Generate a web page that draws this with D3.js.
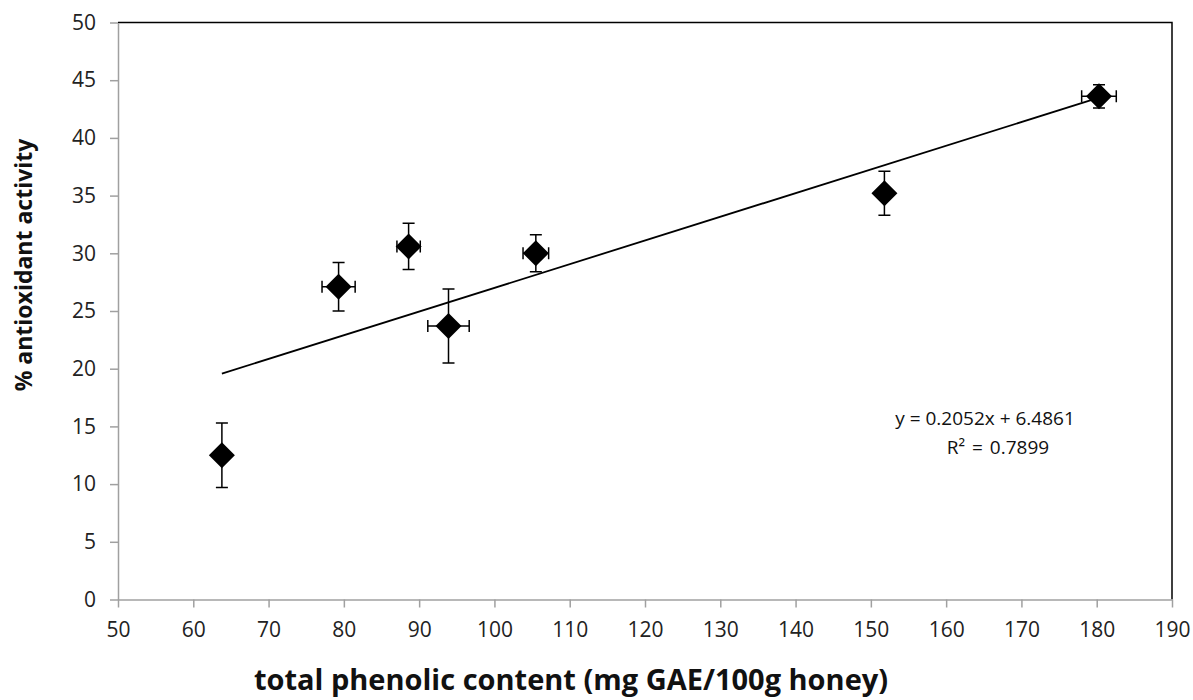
<!DOCTYPE html>
<html>
<head>
<meta charset="utf-8">
<script src="https://cdn.jsdelivr.net/npm/d3@7"></script>
<style>
  html, body { margin: 0; padding: 0; background: #fff; }
  svg { display: block; font-family: "Open Sans", "Noto Sans", sans-serif; }
</style>
</head>
<body>
<svg id="chart" width="1193" height="700"></svg>
<script>
// Total phenolic content vs. antioxidant activity of honey samples
const phenolic     = [63.8, 79.3, 88.6, 93.9, 105.5, 151.8, 180.3];
const antioxidant  = [12.5, 27.1, 30.6, 23.7, 30.0, 35.2, 43.6];
const phenolicErr  = [0.3, 2.2, 1.55, 2.75, 1.7, 0.3, 2.3];
const antioxErr    = [2.8, 2.1, 2.0, 3.2, 1.6, 1.9, 1.0];

const xTicks = [50, 60, 70, 80, 90, 100, 110, 120, 130, 140, 150, 160, 170, 180, 190];
const yTicks = [0, 5, 10, 15, 20, 25, 30, 35, 40, 45, 50];

// linear fit reported on the chart
const slope = 0.2052, intercept = 6.4861, r2 = 0.7899;

const svg = d3.select("#chart");
const m = { left: 118, right: 1172, top: 22.5, bottom: 599.5 };

const x = d3.scaleLinear().domain([50, 190]).range([m.left, m.right]);
const y = d3.scaleLinear().domain([0, 50]).range([m.bottom, m.top]);

// plot area frame (top and right edges)
svg.append("path")
  .attr("d", `M${m.left},${m.top}H${m.right}V${m.bottom}`)
  .attr("fill", "none").attr("stroke", "#000").attr("stroke-width", 1.5);

// axes
const xAxis = svg.append("g").attr("transform", `translate(0,${m.bottom})`)
  .call(d3.axisBottom(x).tickValues(xTicks).tickSize(8).tickSizeOuter(0).tickPadding(15));
const yAxis = svg.append("g").attr("transform", `translate(${m.left},0)`)
  .call(d3.axisLeft(y).tickValues(yTicks).tickSize(8).tickSizeOuter(0).tickPadding(14));

[xAxis, yAxis].forEach(g => {
  g.attr("font-size", null).attr("font-family", null);
  g.select(".domain").attr("stroke", "#a0a0a0").attr("stroke-width", 1.5);
  g.selectAll(".tick line").attr("stroke", "#a0a0a0").attr("stroke-width", 1.5);
  g.selectAll(".tick text").attr("fill", "#222").style("font-size", "21px");
});

// trendline across the data range
const xs = d3.extent(phenolic);
svg.append("line")
  .attr("x1", x(xs[0])).attr("y1", y(slope * xs[0] + intercept))
  .attr("x2", x(xs[1])).attr("y2", y(slope * xs[1] + intercept))
  .attr("stroke", "#000").attr("stroke-width", 1.8);

// error bars
const pts = phenolic.map((v, i) => ({ px: v, py: antioxidant[i], ex: phenolicErr[i], ey: antioxErr[i] }));
const cap = 6;
const eb = svg.append("g").attr("stroke", "#000").attr("stroke-width", 1.5).attr("fill", "none");
pts.forEach(d => {
  const cx = x(d.px), cy = y(d.py);
  const y1 = y(d.py + d.ey), y2 = y(d.py - d.ey);
  const x1 = x(d.px - d.ex), x2 = x(d.px + d.ex);
  eb.append("path").attr("d",
    `M${cx},${y1}V${y2}M${cx - cap},${y1}H${cx + cap}M${cx - cap},${y2}H${cx + cap}` +
    `M${x1},${cy}H${x2}M${x1},${cy - cap}V${cy + cap}M${x2},${cy - cap}V${cy + cap}`);
});

// diamond markers
const r = 13;
svg.append("g").selectAll("path").data(pts).join("path")
  .attr("d", d => {
    const cx = x(d.px), cy = y(d.py);
    return `M${cx},${cy - r}L${cx + r},${cy}L${cx},${cy + r}L${cx - r},${cy}Z`;
  })
  .attr("fill", "#000");

// regression equation
const eq = svg.append("text").attr("text-anchor", "middle")
  .style("font-size", "19px").attr("fill", "#111");
eq.append("tspan").attr("x", 985).attr("y", 425).text(`y = ${slope}x + ${intercept}`);
eq.append("tspan").attr("x", 998).attr("y", 454).style("word-spacing", "2px").text(`R² = ${r2}`);

// axis titles
svg.append("text")
  .attr("x", 571).attr("y", 690).attr("text-anchor", "middle")
  .style("font-size", "29px").style("font-weight", "bold").attr("fill", "#111")
  .text("total phenolic content (mg GAE/100g honey)");

svg.append("text")
  .attr("transform", "translate(32,265) rotate(-90)").attr("text-anchor", "middle")
  .style("font-size", "23px").style("font-weight", "bold").attr("fill", "#111")
  .text("% antioxidant activity");
</script>
</body>
</html>
